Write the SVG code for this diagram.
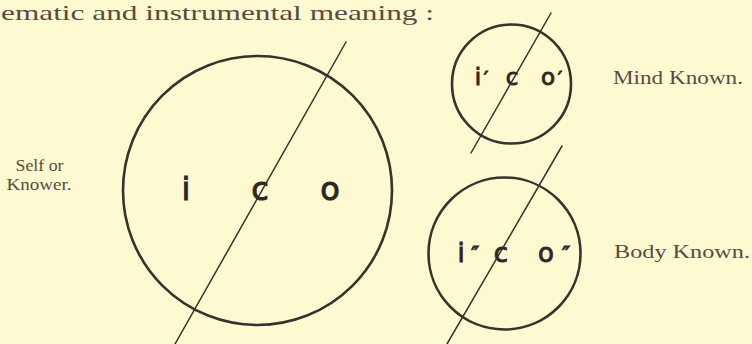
<svg xmlns="http://www.w3.org/2000/svg" width="752" height="344" viewBox="0 0 752 344">
<style>
.bg{fill:#fdf9d0}
.ring{fill:none;stroke:#3a302c;stroke-width:2.6}
.cut{fill:none;stroke:#3a302c;stroke-width:1.5;stroke-linecap:round}
.lbl{font-family:"Liberation Serif",serif;font-size:19px;fill:#5a4b42}
.side{font-family:"Liberation Serif",serif;font-size:17px;fill:#5a4b42}
.hand{font-family:"DejaVu Sans",sans-serif;fill:#2e2622;stroke:#2e2622;stroke-width:0.9;text-anchor:middle}
.head{font-family:"Liberation Serif",serif;font-size:22px;fill:#5a4b42}
</style>
<rect class="bg" x="0" y="0" width="752" height="344"/>
<text class="head" x="1" y="20" textLength="433" lengthAdjust="spacingAndGlyphs">ematic and instrumental meaning :</text>
<g id="self">
<circle class="ring" cx="257.5" cy="190.5" r="134.5"/>
<text class="hand" x="186" y="200" font-size="32">i</text>
<text class="hand" x="260" y="200" font-size="32">c</text>
<text class="hand" x="330" y="200" font-size="32">o</text>
<text class="side" x="39.5" y="171" text-anchor="middle" textLength="48" lengthAdjust="spacingAndGlyphs">Self or</text>
<text class="side" x="39" y="190" text-anchor="middle" textLength="65" lengthAdjust="spacingAndGlyphs">Knower.</text>
</g>
<g id="mind">
<circle class="ring" cx="511.5" cy="84" r="59.5"/>
<text class="hand" x="478" y="85" font-size="23">i</text>
<text class="hand" x="486" y="85" font-size="20">′</text>
<text class="hand" x="512" y="85" font-size="23">c</text>
<text class="hand" x="548" y="85" font-size="23">o</text>
<text class="hand" x="560" y="85" font-size="20">′</text>
<text class="lbl" x="613" y="84" textLength="130" lengthAdjust="spacingAndGlyphs">Mind Known.</text>
</g>
<g id="body">
<circle class="ring" cx="504.5" cy="253.5" r="76"/>
<text class="hand" x="461" y="262" font-size="26">i</text>
<text class="hand" x="475" y="262" font-size="22">″</text>
<text class="hand" x="501" y="262" font-size="26">c</text>
<text class="hand" x="546" y="262" font-size="26">o</text>
<text class="hand" x="566" y="262" font-size="22">″</text>
<text class="lbl" x="614" y="258" textLength="136" lengthAdjust="spacingAndGlyphs">Body Known.</text>
</g>
<g id="connectors">
<line class="cut" x1="346" y1="42" x2="175" y2="344"/>
<line class="cut" x1="551" y1="13" x2="471" y2="153"/>
<line class="cut" x1="562" y1="146" x2="447" y2="344"/>
</g>
</svg>
